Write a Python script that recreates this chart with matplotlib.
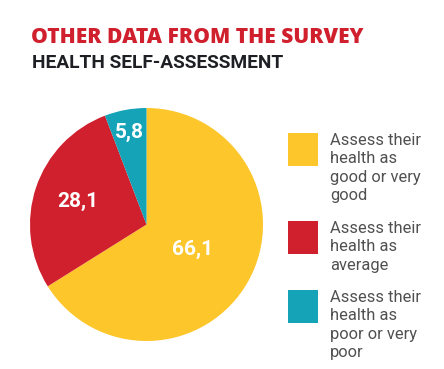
import numpy as np
import matplotlib
matplotlib.use("Agg")
import matplotlib.pyplot as plt

title = "OTHER DATA FROM THE SURVEY"
subtitle = "HEALTH SELF-ASSESSMENT"
categories = ["Assess their\nhealth as\ngood or very\ngood",
              "Assess their\nhealth as\naverage",
              "Assess their\nhealth as\npoor or very\npoor"]
values = [66.1, 28.1, 5.8]
value_labels = ["66,1", "28,1", "5,8"]
colors = ["#FDC62B", "#D0202E", "#14A3B7"]

W, H = 444, 369
fig = plt.figure(figsize=(W / 100, H / 100), dpi=100)
fig.patch.set_facecolor("white")

def fx(px):
    return px / W

def fy(py):
    return 1 - py / H

fig.text(fx(31), fy(43), title, color="#D0202E", fontsize=15.1,
         fontweight="heavy", family="Open Sans", va="baseline", ha="left")
fig.text(fx(32), fy(68), subtitle, color="#1E1F24", fontsize=13.8,
         fontweight="bold", family="Roboto", va="baseline", ha="left")

# pie axes
cx, cy, r = 146.5, 224.5, 116.5
ax = fig.add_axes([fx(cx - r), fy(cy + r), (2 * r) / W, (2 * r) / H])
wedges, _ = ax.pie(values, colors=colors, startangle=90, counterclock=False,
                   radius=1, wedgeprops=dict(linewidth=0))
ax.set_xlim(-1, 1)
ax.set_ylim(-1, 1)
ax.set_aspect("equal")
ax.axis("off")

label_r = [0.45, 0.62, 0.80]
for w, lab, lr in zip(wedges, value_labels, label_r):
    mid = np.deg2rad((w.theta1 + w.theta2) / 2)
    ax.text(lr * np.cos(mid), lr * np.sin(mid), lab, color="white",
            fontsize=15, fontweight="bold", family="Roboto",
            ha="center", va="center")

# legend
sq_tops = [133, 221, 290]
for top, col, cat in zip(sq_tops, colors, categories):
    fig.patches.append(plt.Rectangle((fx(288), fy(top + 33)), 30 / W, 33 / H,
                                     transform=fig.transFigure, color=col,
                                     linewidth=0))
    fig.text(fx(330), fy(top), cat, color="#505050", fontsize=11.9,
             family="Roboto", fontweight="normal", va="top", ha="left",
             linespacing=1.28)

fig.savefig("out.png", dpi=100, facecolor="white")
